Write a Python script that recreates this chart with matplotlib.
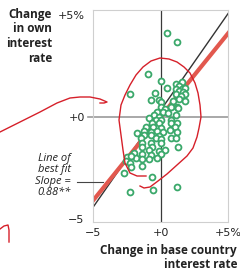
import numpy as np
import matplotlib.pyplot as plt

# change in base country rate (x) vs change in own rate (y), % points
base_chg = [0.51, 1.23, -0.94, 0.07, -2.25, 0.51, -0.43, -0.72, -0.14, 1.16,
            1.59, 1.38, 1.16, 1.59, 1.81, 1.38, 1.67, 1.16, 1.81, 1.52,
            1.38, 1.81, 0.0, 0.94, 0.07, 0.80, 1.23, 0.36, -0.29, 0.22,
            1.30, -0.51, -0.14, 0.58, 1.16, -0.87, -0.36, 0.07, 0.80, -0.65,
            -0.14, 0.80, 1.23, -1.09, -0.58, 0.07, 1.09, -1.23, -0.72, -0.29,
            0.22, 0.72, 1.23, -1.74, -1.23, -0.72, -0.14, -1.45, -0.36, 0.07,
            0.80, 1.16, -1.38, -0.72, 0.07, -1.38, -0.65, 1.30, -0.87, -0.14,
            0.36, -1.96, -1.38, -0.72, 0.07, -2.46, -1.81, -1.38, -0.87, -0.29,
            -2.17, -2.54, -2.25, -2.17, -1.38, -2.68, -0.65, -2.25, -0.58, 1.23]
own_chg = [4.12, 3.68, 2.11, 1.76, 1.13, 1.42, 1.18, 0.83, 0.83, 1.62,
           1.72, 1.52, 1.37, 1.37, 1.42, 1.27, 1.23, 1.13, 1.13, 1.03,
           0.88, 0.78, 0.74, 0.78, 0.49, 0.49, 0.49, 0.39, 0.25, 0.25,
           0.44, 0.10, 0.0, 0.20, 0.10, -0.05, -0.15, -0.15, -0.15, -0.29,
           -0.29, -0.29, -0.29, -0.49, -0.49, -0.54, -0.49, -0.69, -0.74, -0.69,
           -0.74, -0.64, -0.74, -0.78, -0.88, -0.88, -0.93, -1.03, -1.03, -1.08,
           -1.03, -1.03, -1.27, -1.27, -1.27, -1.47, -1.47, -1.47, -1.62, -1.67,
           -1.62, -1.76, -1.81, -1.86, -1.81, -1.96, -2.01, -2.06, -2.06, -2.01,
           -1.91, -2.16, -2.25, -2.45, -2.40, -2.75, -2.94, -3.68, -3.58, -3.43]

# lines: (intercept, slope)
ref_line = (0.32, 0.95)
fit_line = (0.0, 0.82)

xticks = [-5, 0, 5]
xtick_labels = ['\u22125', '+0', '+5%']
yticks = [-5, 0, 5]
ytick_labels = ['\u22125', '+0', '+5%']

# hand-drawn pen marks, in figure pixels
lasso = [(146, 176), (137, 176), (130, 173), (125, 163), (123, 150), (121, 135),
         (119, 120), (121, 105), (125, 95), (130, 85), (136, 75), (143, 67),
         (151, 61), (160, 58), (169, 59), (177, 62), (184, 67), (190, 73),
         (195, 83), (198, 93), (200, 105), (201, 117), (199, 128), (197, 137),
         (193, 148), (187, 156), (177, 165), (167, 174), (158, 181), (150, 187),
         (144, 188), (140, 186)]
arrow = [(0, 132), (20, 122), (40, 112), (57, 103), (70, 98), (80, 97),
         (90, 97), (100, 99), (107, 102), (104, 103), (100, 103)]
one = [(0, 229), (4, 226), (8, 225), (9, 230), (9, 242)]

W, H = 240, 274
fig = plt.figure(figsize=(W / 100, H / 100), dpi=100)
ax = fig.add_axes([93 / W, 1 - 222 / H, 135 / W, 212 / H])

ax.set_xlim(-5, 4.8)
ax.set_ylim(-5.15, 5.25)

ax.axhline(0, color='#9a9a9a', lw=1.2, zorder=1)
ax.axvline(0, color='#3a3a3a', lw=0.9, zorder=1)

xs = np.array([-6, 6])
ax.plot(xs, ref_line[0] + ref_line[1] * xs, color='#333333', lw=1.0, zorder=2)
ax.plot(xs, fit_line[0] + fit_line[1] * xs, color='#e2584e', lw=3.0, zorder=2,
        solid_capstyle='butt')

ax.scatter(base_chg, own_chg, s=18, facecolor='white', edgecolor='#3aa86a',
           linewidth=1.3, zorder=3)

for s in ax.spines.values():
    s.set_color('#cfcfcf')
    s.set_linewidth(0.8)

ax.set_xticks(xticks)
ax.set_xticklabels(xtick_labels, fontsize=8, color='#222222')
ax.set_yticks(yticks)
ax.set_yticklabels(ytick_labels, fontsize=8, color='#222222')
ax.tick_params(axis='x', length=0, pad=4)
ax.tick_params(axis='y', length=0, pad=6)
# only the zero tick has a stub
ax.plot([-0.035, 0], [0, 0], transform=ax.get_yaxis_transform(), color='#9a9a9a',
        lw=1.2, clip_on=False)

fig.text(52 / W, 1 - 8 / H, 'Change\nin own\ninterest\nrate', ha='right', va='top',
         fontsize=8.5, fontweight='bold', family='Open Sans', linespacing=1.15,
         color='#222222')
fig.text(237 / W, 1 - 244 / H, 'Change in base country\ninterest rate', ha='right',
         va='top', fontsize=8.5, fontweight='bold', family='Open Sans',
         linespacing=1.15, color='#222222')
fig.text(71 / W, 1 - 153 / H, 'Line of\nbest fit\nSlope =\n0.88**', ha='right',
         va='top', fontsize=8, style='italic', family='Open Sans', linespacing=1.05,
         color='#222222')

def px(pts):
    return [p[0] / W for p in pts], [1 - p[1] / H for p in pts]

fig.add_artist(plt.Line2D([77 / W, 103 / W], [1 - 182 / H] * 2, color='#444444', lw=0.8))
for path in (lasso, arrow, one):
    u, v = px(path)
    fig.add_artist(plt.Line2D(u, v, color='#d6202a', lw=1.0))

fig.savefig('out.png', dpi=100)
